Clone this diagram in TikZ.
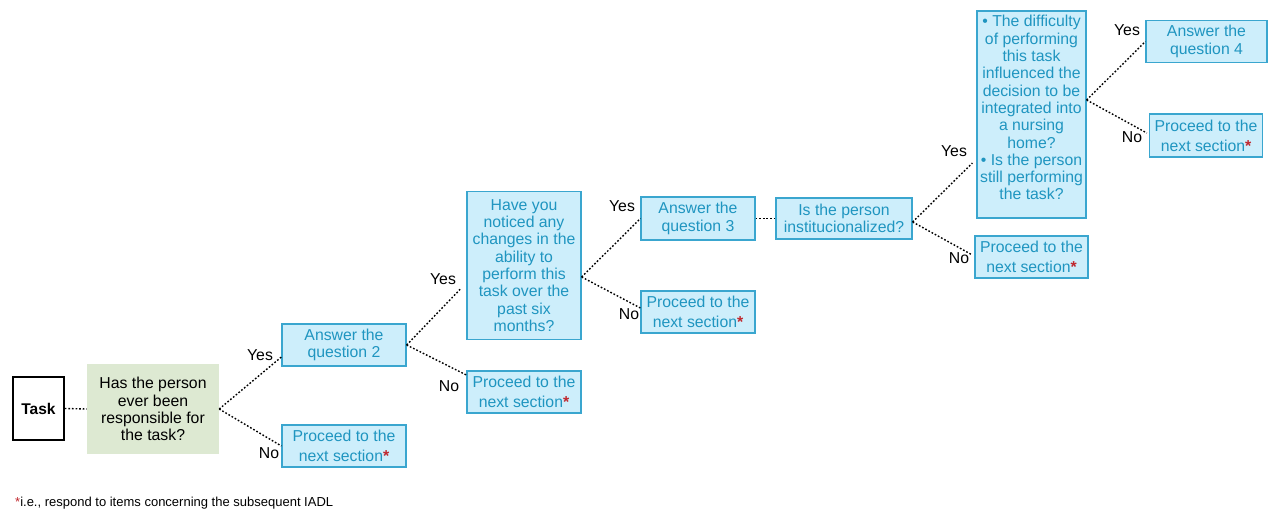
\documentclass[tikz,border=0pt]{standalone}
\usepackage{fontspec}
\setmainfont{Liberation Sans}
\usetikzlibrary{positioning}

\definecolor{boxfill}{HTML}{CDEEFB}
\definecolor{boxline}{HTML}{3AA6CF}
\definecolor{boxtext}{HTML}{1F95C0}
\definecolor{greenfill}{HTML}{DDE9D2}
\definecolor{starred}{HTML}{C0272D}

\newcommand{\nextsec}{Proceed to the\\[3pt]next section\textcolor{starred}{\textbf{*}}}

\begin{document}
\begin{tikzpicture}[x=1pt,y=-1pt,
  box/.style={draw=boxline, line width=1.3pt, fill=boxfill, text=boxtext,
    align=center, inner sep=0pt, font=\fontsize{15.8}{17.3}\selectfont},
  qbox/.style={fill=greenfill, align=center, inner sep=0pt,
    font=\fontsize{15.8}{17.3}\selectfont},
  taskbox/.style={draw=black, line width=1.5pt, fill=white, inner sep=0pt,
    font=\fontsize{15.5}{17}\selectfont\bfseries},
  lbl/.style={inner sep=0pt, font=\fontsize{15.8}{17}\selectfont},
  link/.style={line width=1.4pt, dash pattern=on 1.7pt off 1.9pt}]
\useasboundingbox (0,0) rectangle (1268,512);

% first question
\node[taskbox, minimum width=51pt, minimum height=63pt] (task) at (38.5,408.5) {Task};
\node[qbox, minimum width=132pt, minimum height=90pt] (q1) at (153,409)
  {Has the person\\ever been\\responsible for\\the task?};
\node[box, minimum width=124pt, minimum height=42pt] (a2) at (344,345) {Answer the\\question 2};
\node[box, minimum width=124pt, minimum height=42pt] (p1) at (344,446) {\nextsec};

% second question
\node[box, minimum width=114pt, minimum height=148pt] (q2) at (524,265.5)
  {Have you\\noticed any\\changes in the\\ability to\\perform this\\task over the\\past six\\months?};
\node[box, minimum width=114pt, minimum height=42pt] (p2) at (524,392) {\nextsec};

% third question
\node[box, minimum width=114pt, minimum height=43pt] (a3) at (698,218.5) {Answer the\\question 3};
\node[box, minimum width=114pt, minimum height=42pt] (p3) at (698,312) {\nextsec};
\node[box, minimum width=136pt, minimum height=41pt] (inst) at (844,218.5)
  {Is the person\\institucionalized?};
\node[box, minimum width=109pt, minimum height=207pt] (big) at (1031.5,114.5)
  {• The difficulty\\of performing\\this task\\influenced the\\decision to be\\integrated into\\a nursing\\home?\\• Is the person\\still performing\\the task?\\[-9pt]\strut};
\node[box, minimum width=113pt, minimum height=42pt] (p4) at (1031.5,257) {\nextsec};

% fourth question
\node[box, minimum width=121pt, minimum height=42pt] (a4) at (1206.5,41.5) {Answer the\\question 4};
\node[box, minimum width=113pt, minimum height=43pt] (p5) at (1206,135.5) {\nextsec};

% connectors
\draw[link] (task.east) -- (q1.west);
\draw[link] (q1.east) -- ([yshift=-12pt]a2.west);
\draw[link] (q1.east) -- (p1.west);
\draw[link] (a2.east) -- ([xshift=-5pt,yshift=-22.5pt]q2.west);
\draw[link] (a2.east) -- ([yshift=17pt]p2.west);
\draw[link] ([yshift=-11.5pt]q2.east) -- (a3.west);
\draw[link] ([yshift=-11.5pt]q2.east) -- ([yshift=4pt]p3.west);
\draw[link] (a3.east) -- (inst.east -| inst.west);
\draw[link] ([yshift=-3.5pt]inst.east) -- ([xshift=-4pt,yshift=-48.5pt]big.west);
\draw[link] ([yshift=-3.5pt]inst.east) -- ([xshift=-2pt,yshift=2pt]p4.west);
\draw[link] ([yshift=14.5pt]big.east) -- (a4.west);
\draw[link] ([yshift=14.5pt]big.east) -- ([xshift=-2pt,yshift=2.5pt]p5.west);

% labels
\node[lbl] (y1) at (260,355) {Yes};
\node[lbl] (n1) at (269,453) {No};
\node[lbl] (y2) at (443,279) {Yes};
\node[lbl] (n2) at (449,386) {No};
\node[lbl] (y3) at (622,206) {Yes};
\node[lbl] (n3) at (629,314) {No};
\node[lbl] (y4) at (954,151) {Yes};
\node[lbl] (n4) at (959,258) {No};
\node[lbl] (y5) at (1127,30) {Yes};
\node[lbl] (n5) at (1132,137) {No};

% footnote
\node[anchor=west, inner sep=0pt, font=\fontsize{13}{15}\selectfont] (note) at (15,503)
  {\textcolor{starred}{*}i.e., respond to items concerning the subsequent IADL};
\end{tikzpicture}
\end{document}
